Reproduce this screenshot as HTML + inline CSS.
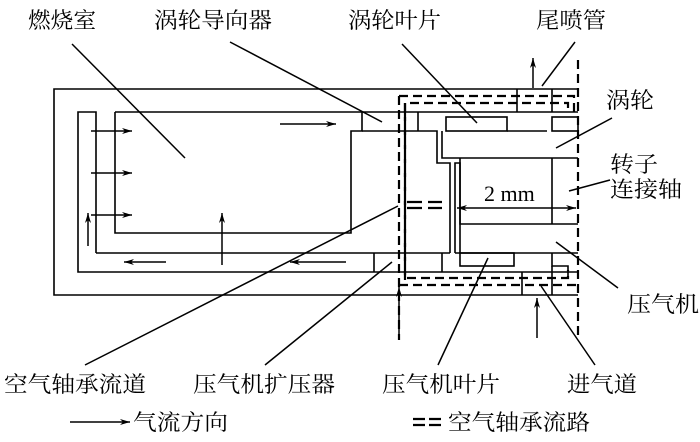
<!DOCTYPE html>
<html><head><meta charset="utf-8"><style>
html,body{margin:0;padding:0;background:#fff;}
svg{display:block;}
text{font-family:"Liberation Serif","Noto Serif CJK SC","Noto Sans CJK SC",serif;font-size:22px;fill:#000;}
</style></head><body>
<svg width="700" height="442" viewBox="0 0 700 442" xmlns="http://www.w3.org/2000/svg">
<defs>
<marker id="a" viewBox="0 0 10 6" refX="10" refY="3" markerWidth="12" markerHeight="6" markerUnits="userSpaceOnUse" orient="auto"><path d="M0,0 L10,3 L0,6 L3,3 Z" fill="#000"/></marker>
</defs>
<g stroke="#000" stroke-width="1.6" fill="none">
<path d="M578,89 H54 V295 H578"/>
<path d="M96,253 V112 H78 V272 H578"/>
<path d="M96,253 H450"/>
<path d="M115,112 V233 H351 V131 H362 V112"/>
<path d="M115,112 H578"/>
<path d="M362,131 H437 V163 H450 V253"/>
<path d="M418,112 V131"/>
<path d="M374,253 V272"/><path d="M442,253 V272"/>
<path d="M522,272 V295"/><path d="M552,266 V295"/>
<path d="M517,89 V112"/><path d="M552,89 V112"/>
<rect x="446" y="117" width="61" height="14"/>
<rect x="552" y="117" width="26" height="14"/>
<path d="M507,131 H547"/>
<path d="M442,131 V158 H578"/>
<path d="M455,253 V163 H460 V253"/>
<path d="M460,158 V224 H578"/>
<path d="M552,158 V224"/>
<path d="M455,253 H578"/>
<rect x="460" y="253" width="54" height="13"/>
<path d="M552,253 V266 H568 V277"/>
</g>
<g stroke="#000" stroke-width="2.2" fill="none" stroke-dasharray="9,5">
<path d="M578,60 V340"/>
<path d="M399,96 V340"/>
<path d="M399,96 H574 V112"/>
<path d="M405,112 V103 H568 V112"/>
<path d="M405,112 V278 H568 V270"/>
<path d="M399,285 H578"/>
<path d="M405,103 V280"/>
</g>
<g stroke="#000" stroke-width="2.2">
<path d="M407,202 H422 M428,202 H442 M407,208 H422 M428,208 H442"/>
</g>
<g stroke="#000" stroke-width="1.5" fill="none" marker-end="url(#a)">
<path d="M91,131 H132"/><path d="M91,173 H132"/><path d="M91,215 H132"/>
<path d="M88,246 V213"/><path d="M222,265 V213"/>
<path d="M166,262 H124"/><path d="M346,262 H290"/>
<path d="M280,124 H336"/>
<path d="M533,88 V58"/>
<path d="M537,338 V298"/>
<path d="M399,338 V287"/>
<path d="M70,422 H130"/>
</g>
<g stroke="#000" stroke-width="1.5" fill="none">
<path d="M500,208 H457" marker-end="url(#a)"/>
<path d="M500,208 H576" marker-end="url(#a)"/>
<path d="M72,44 L185,158"/>
<path d="M230,42 L382,122"/>
<path d="M402,44 L477,123"/>
<path d="M575,42 L542,86"/>
<path d="M612,118 L556,148"/>
<path d="M610,180 L569,191"/>
<path d="M556,242 L618,288"/>
<path d="M85,365 L398,206"/>
<path d="M265,365 L392,262"/>
<path d="M438,365 L488,258"/>
<path d="M595,365 L541,286"/>
</g>
<g stroke="#000" stroke-width="2.2"><path d="M413,419 H425 M429,419 H441 M413,425 H425 M429,425 H441"/></g>
<text x="484" y="201" font-size="24">2 mm</text>
<text x="28" y="28" textLength="68" lengthAdjust="spacingAndGlyphs">燃烧室</text>
<text x="154" y="28" textLength="118" lengthAdjust="spacingAndGlyphs">涡轮导向器</text>
<text x="348" y="28" textLength="93" lengthAdjust="spacingAndGlyphs">涡轮叶片</text>
<text x="536" y="28" textLength="70" lengthAdjust="spacingAndGlyphs">尾喷管</text>
<text x="606" y="108" textLength="48" lengthAdjust="spacingAndGlyphs">涡轮</text>
<text x="610" y="172" textLength="48" lengthAdjust="spacingAndGlyphs">转子</text>
<text x="610" y="197" textLength="72" lengthAdjust="spacingAndGlyphs">连接轴</text>
<text x="627" y="312" textLength="72" lengthAdjust="spacingAndGlyphs">压气机</text>
<text x="4" y="392" textLength="142" lengthAdjust="spacingAndGlyphs">空气轴承流道</text>
<text x="193" y="392" textLength="142" lengthAdjust="spacingAndGlyphs">压气机扩压器</text>
<text x="382" y="392" textLength="118" lengthAdjust="spacingAndGlyphs">压气机叶片</text>
<text x="567" y="392" textLength="70" lengthAdjust="spacingAndGlyphs">进气道</text>
<text x="133" y="430" textLength="95" lengthAdjust="spacingAndGlyphs">气流方向</text>
<text x="448" y="430" textLength="142" lengthAdjust="spacingAndGlyphs">空气轴承流路</text>
</svg>
</body></html>
